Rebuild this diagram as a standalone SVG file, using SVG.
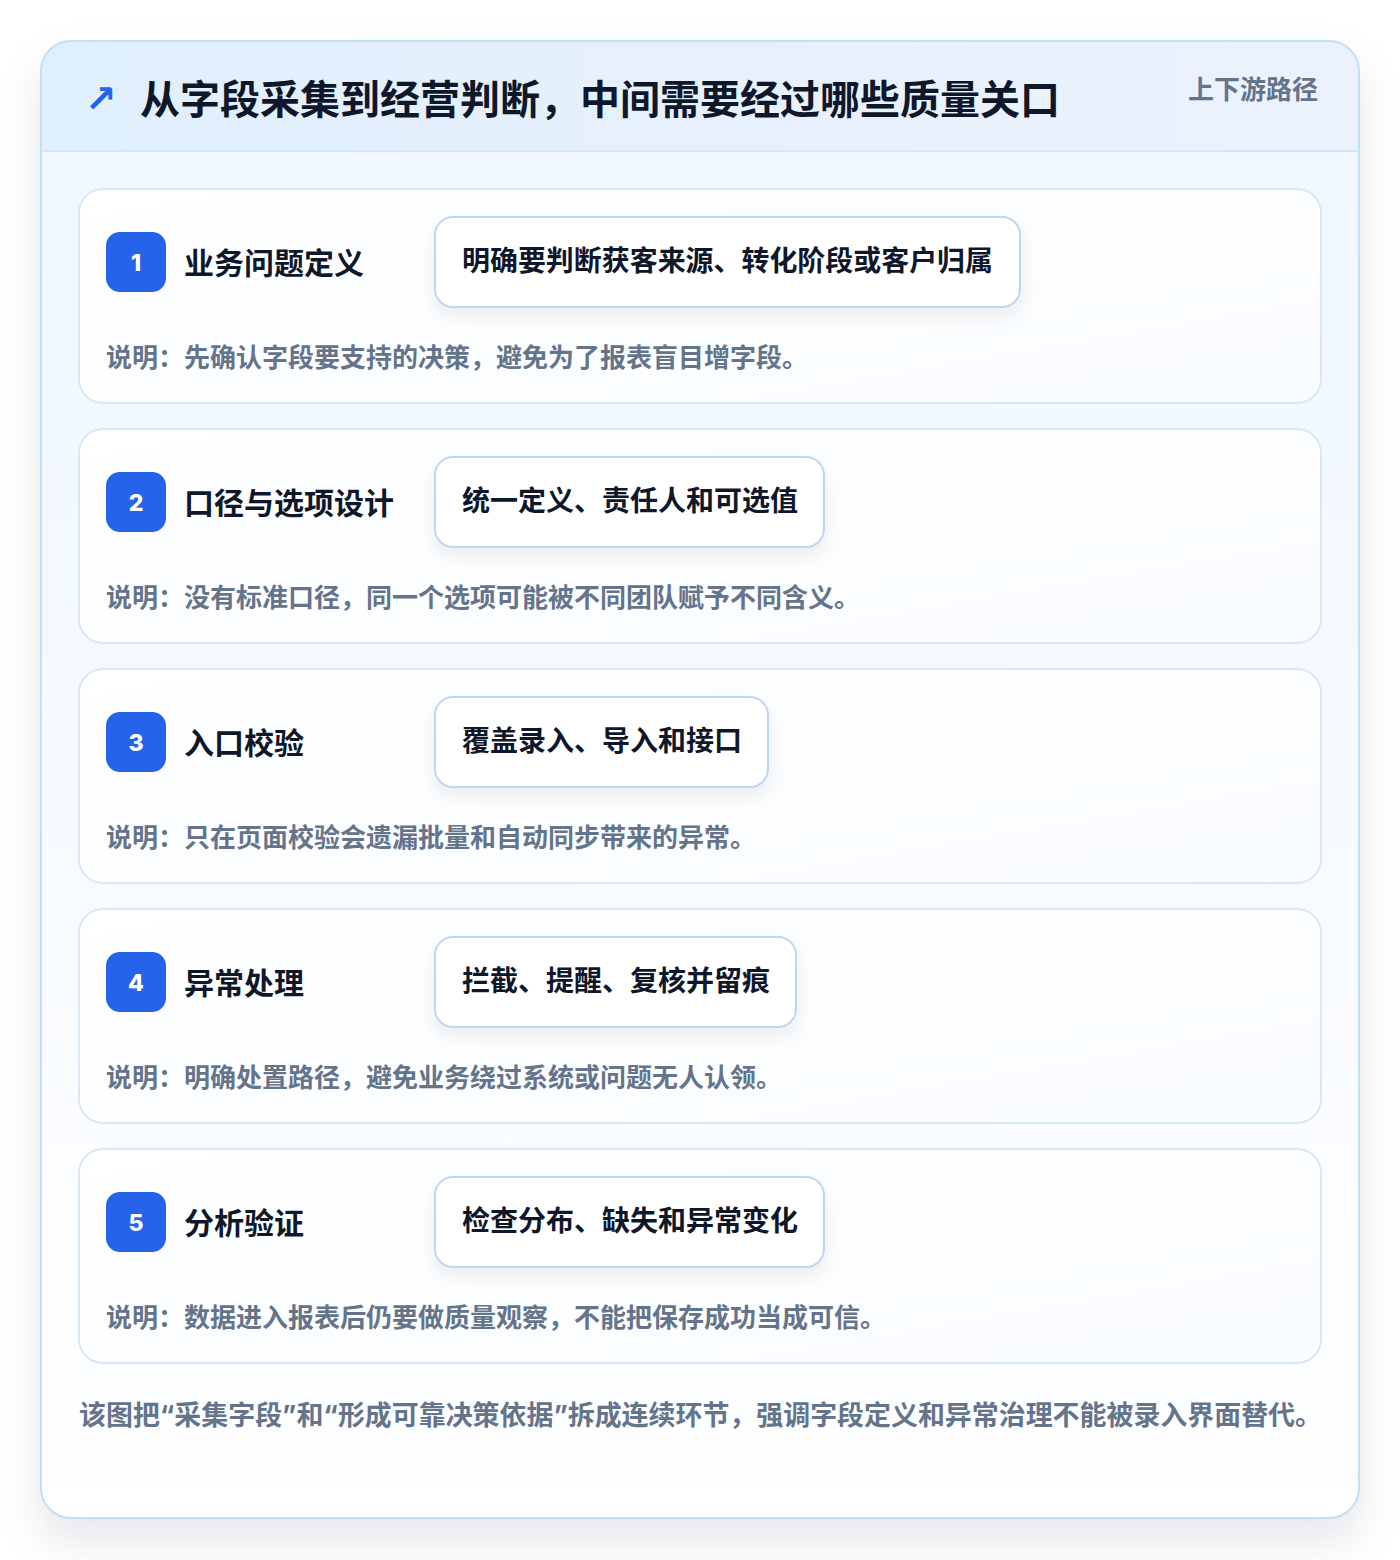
<svg xmlns="http://www.w3.org/2000/svg" width="1400" height="1560" viewBox="0 0 1400 1560">
  <defs>
    <filter id="cardShadow" x="-10%" y="-10%" width="120%" height="125%">
      <feDropShadow dx="0" dy="22" stdDeviation="22" flood-color="#0f172a" flood-opacity="0.10"/>
    </filter>
    <filter id="pillShadow" x="-10%" y="-20%" width="120%" height="160%">
      <feDropShadow dx="0" dy="8" stdDeviation="9" flood-color="#0f172a" flood-opacity="0.07"/>
    </filter>
    <linearGradient id="outerFill" x1="0" y1="0" x2="0" y2="1">
      <stop offset="0" stop-color="#eef6ff"/>
      <stop offset="0.6" stop-color="#f8fbff"/>
      <stop offset="1" stop-color="#ffffff"/>
    </linearGradient>
    <linearGradient id="headFill" x1="0" y1="0" x2="1" y2="0">
      <stop offset="0" stop-color="#e0effc"/>
      <stop offset="1" stop-color="#ecf2fd"/>
    </linearGradient>
    <linearGradient id="stepFill" x1="0" y1="0" x2="1" y2="1">
      <stop offset="0" stop-color="#ffffff"/>
      <stop offset="1" stop-color="#f9fcff"/>
    </linearGradient>
    <clipPath id="outerClip">
      <rect x="41" y="41" width="1318" height="1477" rx="30"/>
    </clipPath>
  </defs>
  <style>
    text { font-family: Inter, "Noto Sans CJK SC", "Noto Sans", sans-serif; font-weight: 700; dominant-baseline: central; }
    .title { font-size: 40px; fill: #0f172a; }
    .tag { font-size: 26px; fill: #64748b; }
    .step { fill: url(#stepFill); stroke: #d9e8f7; stroke-width: 2; }
    .badge { fill: #2563eb; }
    .num { font-size: 23px; fill: #ffffff; text-anchor: middle; font-weight: 800; }
    .stitle { font-size: 30px; fill: #0f172a; }
    .pill { fill: #ffffff; stroke: #bfd6f2; stroke-width: 2; filter: url(#pillShadow); }
    .ptext { font-size: 28px; fill: #0f172a; }
    .desc { font-size: 26px; fill: #64748b; }
    .foot { font-size: 27px; fill: #64748b; }
  </style>
  <rect x="0" y="0" width="1400" height="1560" fill="#ffffff"/>
  <g id="frame">
    <rect x="41" y="41" width="1318" height="1477" rx="30" fill="url(#outerFill)" filter="url(#cardShadow)"/>
    <g clip-path="url(#outerClip)">
      <rect x="41" y="41" width="1318" height="110" fill="url(#headFill)"/>
      <line x1="41" y1="151" x2="1359" y2="151" stroke="#d3e7f8" stroke-width="2"/>
    </g>
    <rect x="41" y="41" width="1318" height="1477" rx="30" fill="none" stroke="#bfe0f5" stroke-width="2"/>
  </g>
  <g id="header">
    <text x="85" y="99" font-size="38" fill="#2563eb" style="font-family: 'DejaVu Sans', sans-serif;">↗</text>
    <text class="title" x="140" y="99">从字段采集到经营判断，中间需要经过哪些质量关口</text>
    <text class="tag" x="1318" y="89" text-anchor="end">上下游路径</text>
  </g>
  <g id="step1">
    <rect class="step" x="79" y="189" width="1242" height="214" rx="24"/>
    <rect class="badge" x="106" y="232" width="60" height="60" rx="14"/>
    <text class="num" x="136" y="263">1</text>
    <text class="stitle" x="184" y="263">业务问题定义</text>
    <rect class="pill" x="435" y="217" width="585" height="90" rx="18"/>
    <text class="ptext" x="462" y="261" textLength="531" lengthAdjust="spacingAndGlyphs">明确要判断获客来源、转化阶段或客户归属</text>
    <text class="desc" x="106" y="357">说明：先确认字段要支持的决策，避免为了报表盲目增字段。</text>
  </g>
  <g id="step2">
    <rect class="step" x="79" y="429" width="1242" height="214" rx="24"/>
    <rect class="badge" x="106" y="472" width="60" height="60" rx="14"/>
    <text class="num" x="136" y="503">2</text>
    <text class="stitle" x="184" y="503">口径与选项设计</text>
    <rect class="pill" x="435" y="457" width="389" height="90" rx="18"/>
    <text class="ptext" x="462" y="501">统一定义、责任人和可选值</text>
    <text class="desc" x="106" y="597">说明：没有标准口径，同一个选项可能被不同团队赋予不同含义。</text>
  </g>
  <g id="step3">
    <rect class="step" x="79" y="669" width="1242" height="214" rx="24"/>
    <rect class="badge" x="106" y="712" width="60" height="60" rx="14"/>
    <text class="num" x="136" y="743">3</text>
    <text class="stitle" x="184" y="743">入口校验</text>
    <rect class="pill" x="435" y="697" width="333" height="90" rx="18"/>
    <text class="ptext" x="462" y="741">覆盖录入、导入和接口</text>
    <text class="desc" x="106" y="837">说明：只在页面校验会遗漏批量和自动同步带来的异常。</text>
  </g>
  <g id="step4">
    <rect class="step" x="79" y="909" width="1242" height="214" rx="24"/>
    <rect class="badge" x="106" y="952" width="60" height="60" rx="14"/>
    <text class="num" x="136" y="983">4</text>
    <text class="stitle" x="184" y="983">异常处理</text>
    <rect class="pill" x="435" y="937" width="361" height="90" rx="18"/>
    <text class="ptext" x="462" y="981">拦截、提醒、复核并留痕</text>
    <text class="desc" x="106" y="1077">说明：明确处置路径，避免业务绕过系统或问题无人认领。</text>
  </g>
  <g id="step5">
    <rect class="step" x="79" y="1149" width="1242" height="214" rx="24"/>
    <rect class="badge" x="106" y="1192" width="60" height="60" rx="14"/>
    <text class="num" x="136" y="1223">5</text>
    <text class="stitle" x="184" y="1223">分析验证</text>
    <rect class="pill" x="435" y="1177" width="389" height="90" rx="18"/>
    <text class="ptext" x="462" y="1221">检查分布、缺失和异常变化</text>
    <text class="desc" x="106" y="1317">说明：数据进入报表后仍要做质量观察，不能把保存成功当成可信。</text>
  </g>
  <g id="connectors"></g>
  <g id="footer">
    <text class="foot" x="79" y="1415" textLength="1243" lengthAdjust="spacingAndGlyphs">该图把“采集字段”和“形成可靠决策依据”拆成连续环节，强调字段定义和异常治理不能被录入界面替代。</text>
  </g>
</svg>
